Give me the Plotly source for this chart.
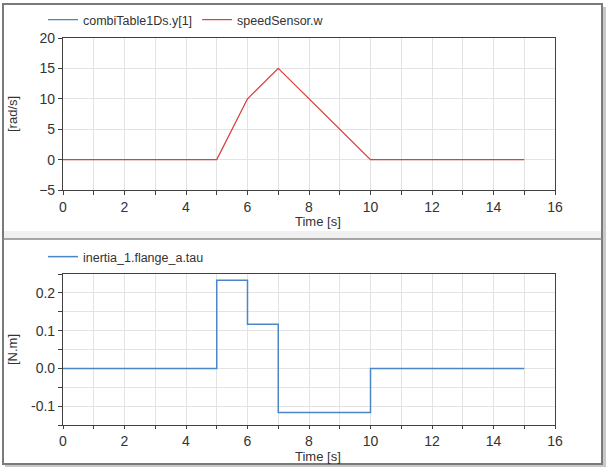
import plotly.graph_objects as go

W, H = 609, 472

# ---- data ----
t_speed = [0, 5, 6, 7, 10, 15]
table_y = [0, 0, 10, 15, 0, 0]
speed_w = [0, 0, 10, 15, 0, 0]
t_tau = [0, 5, 6, 7, 10, 15]
tau = [0.0, 0.2333, 0.1167, -0.1167, 0.0, 0.0]

x_ticks = list(range(0, 17))
x_labels = [str(v) if v % 2 == 0 else "" for v in x_ticks]
y1_ticks = [-5, 0, 5, 10, 15, 20]
y2_ticks = [-0.15, -0.1, -0.05, 0.0, 0.05, 0.1, 0.15, 0.2, 0.25]
y2_labels = ["", "-0.1", "", "0.0", "", "0.1", "", "0.2", ""]

BLUE = "#4a86c8"
RED = "#e0403a"
FONT = "Liberation Sans, Arial, sans-serif"


def px(x):
    return x / W


def py(y):
    return 1 - y / H


fig = go.Figure()
# blue table output (hidden under the red speed curve)
fig.add_trace(go.Scatter(x=t_speed, y=table_y, mode="lines", name="combiTable1Ds.y[1]",
                         line=dict(color=BLUE, width=0.5), xaxis="x", yaxis="y",
                         showlegend=False, legendgroup="tab"))
# legend entry for the blue curve with normal line width
fig.add_trace(go.Scatter(x=[None], y=[None], mode="lines", name="combiTable1Ds.y[1]",
                         line=dict(color=BLUE, width=1.3), xaxis="x", yaxis="y",
                         legend="legend", legendgroup="tab"))
fig.add_trace(go.Scatter(x=t_speed, y=speed_w, mode="lines", name="speedSensor.w",
                         line=dict(color=RED, width=1.2), xaxis="x", yaxis="y", legend="legend"))
fig.add_trace(go.Scatter(x=t_tau, y=tau, mode="lines", name="inertia_1.flange_a.tau",
                         line=dict(color=BLUE, width=1.5, shape="hv"), xaxis="x2", yaxis="y2",
                         legend="legend2"))

axis_common = dict(showline=True, linecolor="#404040", linewidth=1.2, mirror=True,
                   showgrid=True, gridcolor="#e3e3e3", gridwidth=1, zeroline=False,
                   ticks="outside", tickcolor="#404040", tickwidth=1,
                   automargin=False,
                   tickfont=dict(family=FONT, size=14, color="#333333"))

xd = [px(63), px(555)]
legend_font = dict(family=FONT, size=12.5, color="#333333")
fig.update_layout(
    width=W, height=H,
    margin=dict(l=0, r=0, t=0, b=0, pad=0, autoexpand=False),
    paper_bgcolor="white", plot_bgcolor="white",
    showlegend=True,
    xaxis=dict(domain=xd, range=[0, 16], tickmode="array", tickvals=x_ticks, ticktext=x_labels,
               anchor="y", ticklen=4, **axis_common),
    yaxis=dict(domain=[py(190), py(38)], range=[-5, 20], tickmode="array", tickvals=y1_ticks,
               anchor="x", ticklen=4, **axis_common),
    xaxis2=dict(domain=xd, range=[0, 16], tickmode="array", tickvals=x_ticks, ticktext=x_labels,
                anchor="y2", ticklen=3, **axis_common),
    yaxis2=dict(domain=[py(425), py(274)], range=[-0.15, 0.25], tickmode="array", tickvals=y2_ticks,
                ticktext=y2_labels, anchor="x2", ticklen=4, **axis_common),
    legend=dict(orientation="h", x=px(43), y=py(5), xanchor="left", yanchor="top",
                font=legend_font, bgcolor="rgba(0,0,0,0)", itemwidth=30),
    legend2=dict(orientation="h", x=px(43), y=py(242), xanchor="left", yanchor="top",
                 font=legend_font, bgcolor="rgba(0,0,0,0)", itemwidth=30),
)

annots = [
    dict(text="Time [s]", x=px(318), y=py(221), xanchor="center", yanchor="middle"),
    dict(text="Time [s]", x=px(318), y=py(456.5), xanchor="center", yanchor="middle"),
    dict(text="[rad/s]", x=px(12), y=py(114), xanchor="center", yanchor="middle", textangle=-90),
    dict(text="[N.m]", x=px(12), y=py(350), xanchor="center", yanchor="middle", textangle=-90),
]
for a in annots:
    fig.add_annotation(xref="paper", yref="paper", showarrow=False,
                       font=dict(family=FONT, size=13, color="#333333"), **a)

shapes = [
    # shadow
    dict(type="rect", x0=px(5), x1=px(606), y0=py(467), y1=py(7), line=dict(width=0),
         fillcolor="#c8c8c8", layer="below"),
    # frame
    dict(type="rect", x0=px(3), x1=px(602), y0=py(464), y1=py(4), line=dict(color="#7a7a7a", width=2),
         fillcolor="white", layer="below"),
    # divider band
    dict(type="rect", x0=px(4), x1=px(601), y0=py(239), y1=py(231), line=dict(width=0),
         fillcolor="#f0f0f0", layer="below"),
    dict(type="line", x0=px(3), x1=px(602), y0=py(239), y1=py(239), line=dict(color="#8a8a8a", width=1.5),
         layer="below"),
]
for s in shapes:
    fig.add_shape(xref="paper", yref="paper", **s)

fig.write_html("out.html")
